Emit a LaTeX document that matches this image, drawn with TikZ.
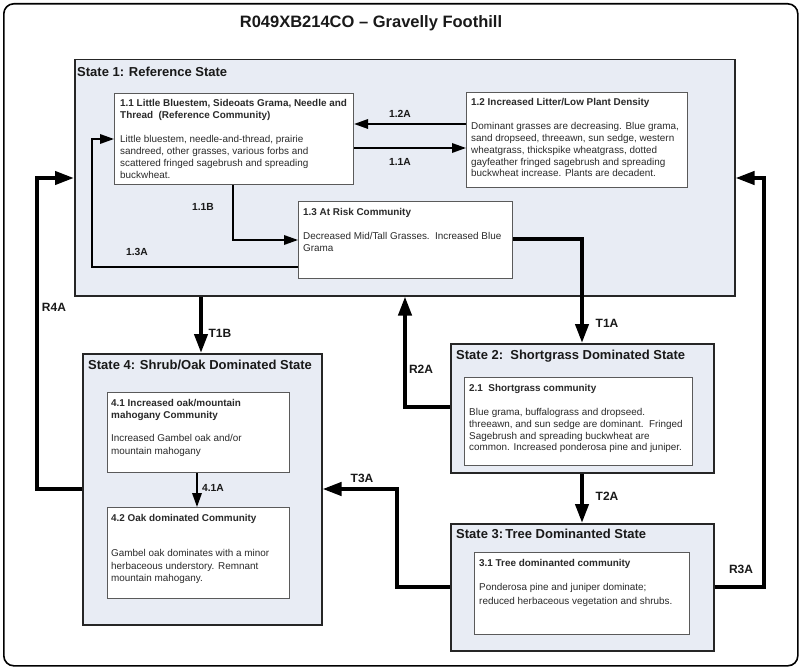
\documentclass[tikz,border=0pt]{standalone}
\usepackage{fontspec}
\setmainfont{Liberation Sans}
\usetikzlibrary{arrows.meta}
\definecolor{statefill}{HTML}{E8ECF4}
\definecolor{bordergray}{HTML}{5A5A5A}
\definecolor{textgray}{HTML}{2A2A2A}
\begin{document}
\begin{tikzpicture}[x=1pt,y=-1pt,
  frame/.style={draw=black, line width=1.6pt, rounded corners=10pt, inner sep=0, anchor=north west},
  statebox/.style={draw=black!85, line width=1.5pt, fill=statefill, inner sep=0, anchor=north west},
  combox/.style={draw=bordergray, line width=1.1pt, fill=white, inner sep=0, anchor=north west},
  sttl/.style={font=\fontsize{13}{15}\selectfont\bfseries, anchor=base west, inner sep=0, text=black!90},
  ctxt/.style={anchor=north west, inner sep=0, align=left, text=textgray},
  tlab/.style={font=\fontsize{12}{14}\selectfont\bfseries, inner sep=0, text=black!90},
  clab/.style={font=\fontsize{10.3}{12}\selectfont\bfseries, inner sep=0, text=black!90},
  thinarr/.style={line width=1.8pt, -{Triangle[length=14pt,width=9.5pt]}},
  thickarr/.style={line width=4pt, -{Triangle[length=19pt,width=13pt]}}
]
\useasboundingbox (0,0) rectangle (800,668);
\fill[white] (0,0) rectangle (800,668);
\node[frame, minimum width=794pt, minimum height=662pt] (frame) at (3,3) {};
\node[font=\fontsize{16.5}{19}\selectfont\bfseries, anchor=base, inner sep=0, text=black!90] (title) at (371,28) {R049XB214CO -- Gravelly Foothill};

% state boxes
\node[statebox, minimum width=660pt, minimum height=236pt] (s1) at (74,59) {};
\node[statebox, minimum width=263pt, minimum height=129pt] (s2) at (450,343) {};
\node[statebox, minimum width=263pt, minimum height=127pt] (s3) at (450,523) {};
\node[statebox, minimum width=239pt, minimum height=271pt] (s4) at (82,353) {};

\node[sttl] (s1t) at (77,76.7) {State 1: Reference State};
\node[sttl] (s2t) at (456,359.7) {State 2:\ \ Shortgrass Dominated State};
\node[sttl] (s3t) at (456,538.7) {State 3:\,Tree Dominanted State};
\node[sttl] (s4t) at (88,369.7) {State 4: Shrub/Oak Dominated State};

% community boxes
\node[combox, minimum width=239pt, minimum height=91pt] (c11) at (114,93) {};
\node[combox, minimum width=221pt, minimum height=95pt] (c12) at (466,92) {};
\node[combox, minimum width=214pt, minimum height=77pt] (c13) at (298,201) {};
\node[combox, minimum width=228pt, minimum height=88pt] (c21) at (464,377) {};
\node[combox, minimum width=215pt, minimum height=82pt] (c31) at (474,552) {};
\node[combox, minimum width=182pt, minimum height=80pt] (c41) at (107,392) {};
\node[combox, minimum width=182pt, minimum height=91pt] (c42) at (107,507) {};

\node[ctxt, font=\fontsize{9.9}{12}\selectfont] (t11) at (120,99.4) {\textbf{1.1 Little Bluestem, Sideoats Grama, Needle and}\\\textbf{Thread\ \ (Reference Community)}\\[12pt]Little bluestem, needle-and-thread, prairie\\sandreed, other grasses, various forbs and\\scattered fringed sagebrush and spreading\\buckwheat.};
\node[ctxt, font=\fontsize{9.9}{11.8}\selectfont] (t12) at (471,98.4) {\textbf{1.2 Increased Litter/Low Plant Density}\\[12.2pt]Dominant grasses are decreasing. Blue grama,\\sand dropseed, threeawn, sun sedge, western\\wheatgrass, thickspike wheatgrass, dotted\\gayfeather fringed sagebrush and spreading\\buckwheat increase. Plants are decadent.};
\node[ctxt, font=\fontsize{9.9}{12}\selectfont] (t13) at (303,208.4) {\textbf{1.3 At Risk Community}\\[12pt]Decreased Mid/Tall Grasses.\ \ Increased Blue\\Grama};
\node[ctxt, font=\fontsize{9.9}{11.7}\selectfont] (t21) at (469,384.4) {\textbf{2.1\ \ Shortgrass community}\\[12.3pt]Blue grama, buffalograss and dropseed.\\threeawn, and sun sedge are dominant.\ \ Fringed\\Sagebrush and spreading buckwheat are\\common. Increased ponderosa pine and juniper.};
\node[ctxt, font=\fontsize{9.9}{14}\selectfont] (t31) at (479,559.4) {\textbf{3.1 Tree dominanted community}\\[10pt]Ponderosa pine and juniper dominate;\\reduced herbaceous vegetation and shrubs.};
\node[ctxt, font=\fontsize{9.9}{12.2}\selectfont] (t41) at (111,399.4) {\textbf{4.1 Increased oak/mountain}\\\textbf{mahogany Community}\\[10.8pt]Increased Gambel oak and/or\\mountain mahogany};
\node[ctxt, font=\fontsize{9.9}{12.5}\selectfont] (t42) at (111,514.4) {\textbf{4.2 Oak dominated Community}\\[22.5pt]Gambel oak dominates with a minor\\herbaceous understory. Remnant\\mountain mahogany.};

% community transitions
\draw[thinarr] (c12.west |- 0,124) -- (c11.east |- 0,124);
\draw[thinarr] (c11.east |- 0,148) -- (c12.west |- 0,148);
\draw[thinarr] (c11.south -| 233,0) |- (c13.west |- 0,240);
\draw[thinarr] (c13.west |- 0,267) -- (92,267) -- (92,139) -- (c11.west |- 0,139);
\draw[thinarr] (c41.south -| 197,0) -- (c42.north -| 197,0);

% state transitions
\draw[thickarr] (c13.east |- 0,239) -- (582,239) -- (s2.north -| 582,0);
\draw[thickarr] (s2.west |- 0,407) -- (405,407) -- (s1.south -| 405,0);
\draw[thickarr] (s1.south -| 201,0) -- (s4.north -| 201,0);
\draw[thickarr] (s2.south -| 582,0) -- (s3.north -| 582,0);
\draw[thickarr] (s3.west |- 0,587) -- (397,587) -- (397,489) -- (s4.east |- 0,489);
\draw[thickarr] (s3.east |- 0,587) -- (764,587) -- (764,178) -- (s1.east |- 0,178);
\draw[thickarr] (s4.west |- 0,489) -- (37,489) -- (37,178) -- (s1.west |- 0,178);

% labels
\node[clab] (l12a) at (400,114) {1.2A};
\node[clab] (l11a) at (400,162) {1.1A};
\node[clab] (l11b) at (203,207) {1.1B};
\node[clab] (l13a) at (137,252) {1.3A};
\node[clab] (l41a) at (213,488) {4.1A};
\node[tlab] (lt1b) at (220,333) {T1B};
\node[tlab] (lt1a) at (607,323) {T1A};
\node[tlab] (lt2a) at (607,496) {T2A};
\node[tlab] (lr2a) at (421,369) {R2A};
\node[tlab] (lr3a) at (741,569) {R3A};
\node[tlab] (lr4a) at (54,307) {R4A};
\node[tlab] (lt3a) at (362,478) {T3A};
\end{tikzpicture}
\end{document}
